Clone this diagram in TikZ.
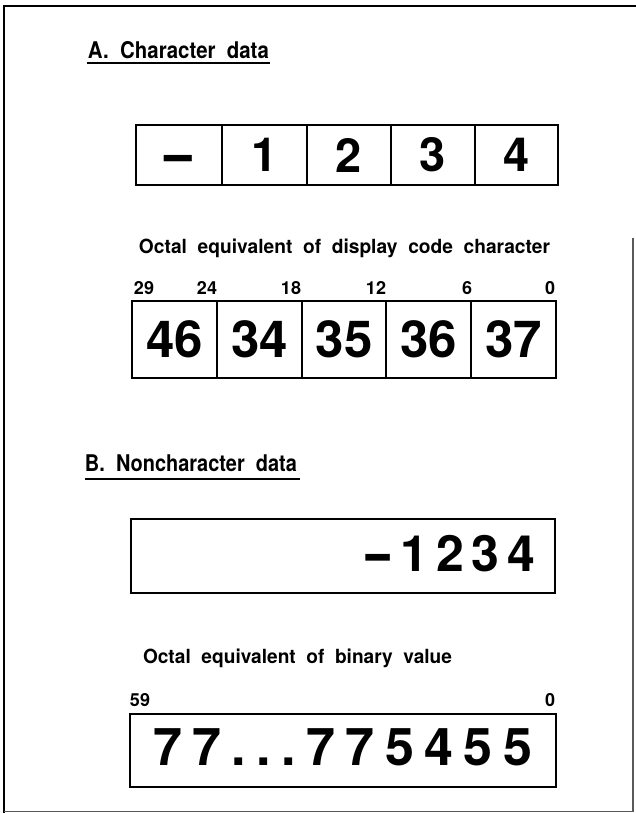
\documentclass[tikz,border=0pt]{standalone}
\usepackage{fontspec}
\setmainfont{TeX Gyre Heros}
\usepackage{graphicx}
\tikzset{
  frameline/.style={line width=2.6pt, line cap=rect},
  frameedge/.style={line width=1.1pt, draw=black!65},
  cellbox/.style={draw, rectangle, line width=1.9pt, inner sep=0pt, outer sep=0pt},
  bigA/.style={font=\bfseries\fontsize{47}{47}\selectfont},
  bigB/.style={font=\bfseries\fontsize{51}{51}\selectfont},
  bigC/.style={font=\bfseries\fontsize{50}{50}\selectfont},
  bigD/.style={font=\bfseries\fontsize{52}{52}\selectfont},
  bitlabel/.style={inner sep=0pt, font=\bfseries\fontsize{18}{18}\selectfont},
  heading/.style={inner sep=0pt, font=\bfseries\fontsize{23}{23}\selectfont},
  caption/.style={inner sep=0pt, font=\bfseries\fontsize{19.5}{19.5}\selectfont},
  underline/.style={line width=1.8pt},
  plain/.style={inner sep=0pt}
}
\begin{document}
\begin{tikzpicture}[x=1pt,y=-1pt]
\useasboundingbox (0,0) rectangle (635,813);
% frame
\draw[frameline] (635,6) -- (4,6) -- (4,813);
\draw[frameedge] (4,811.5) -- (633,811.5) -- (633,238);

% A heading
\node[heading] (headA) at (178.5,50) {\resizebox{181pt}{\height}{A.\ \ Character\ \ data}};
\draw[underline] (87,63) -- (270,63);

% row of characters
\node[cellbox, bigA, minimum width=86pt, minimum height=60pt] (c1) at (179,155) {\vphantom{1}\scalebox{2.2}[1]{-}};
\node[cellbox, bigA, minimum width=85pt, minimum height=60pt] (c2) at (264.5,155) {1};
\node[cellbox, bigA, minimum width=84pt, minimum height=60pt] (c3) at (349,155) {2};
\node[cellbox, bigA, minimum width=84pt, minimum height=60pt] (c4) at (433,155) {3};
\node[cellbox, bigA, minimum width=83pt, minimum height=60pt] (c5) at (516.5,155) {4};

% caption 1
\node[caption] (cap1) at (344.5,248) {\resizebox{411pt}{\height}{Octal\ \ equivalent\ \ of\ \ display\ \ code\ \ character}};

% bit labels
\node[bitlabel] (b29) at (144,288) {29};
\node[bitlabel] (b24) at (207,288) {24};
\node[bitlabel] (b18) at (291,288) {18};
\node[bitlabel] (b12) at (376,288) {12};
\node[bitlabel] (b6) at (467,288) {6};
\node[bitlabel] (b0) at (550,288) {0};

% octal row
\node[cellbox, bigB, minimum width=85pt, minimum height=77pt] (d1) at (174.5,339.5) {46};
\node[cellbox, bigB, minimum width=85pt, minimum height=77pt] (d2) at (259.5,339.5) {34};
\node[cellbox, bigB, minimum width=84pt, minimum height=77pt] (d3) at (344,339.5) {35};
\node[cellbox, bigB, minimum width=85pt, minimum height=77pt] (d4) at (428.5,339.5) {36};
\node[cellbox, bigB, minimum width=85pt, minimum height=77pt] (d5) at (513.5,339.5) {37};

% B heading
\node[heading] (headB) at (191,463) {\resizebox{212pt}{\height}{B.\ \ Noncharacter\ \ data}};
\draw[underline] (85,479) -- (300,479);

% noncharacter value
\node[cellbox, minimum width=424pt, minimum height=74pt] (v1) at (343,556) {};
\node[plain, bigC] (v1t) at (449,554) {\makebox[172pt]{\scalebox{1.8}[1]{-}\hfill1\hfill2\hfill3\hfill4}};

% caption 2
\node[caption] (cap2) at (297.5,658) {\resizebox{309pt}{\height}{Octal\ \ equivalent\ \ of\ \ binary\ \ value}};

\node[bitlabel] (b59) at (140,700) {59};
\node[bitlabel] (b0b) at (550,700) {0};

\node[cellbox, minimum width=426pt, minimum height=73pt] (v2) at (343,750.5) {};
\node[plain, bigD] (v2t) at (342.5,747) {\makebox[379pt]{7\hfill7\hfill.\hfill.\hfill.\hfill7\hfill7\hfill5\hfill4\hfill5\hfill5}};
\end{tikzpicture}
\end{document}
